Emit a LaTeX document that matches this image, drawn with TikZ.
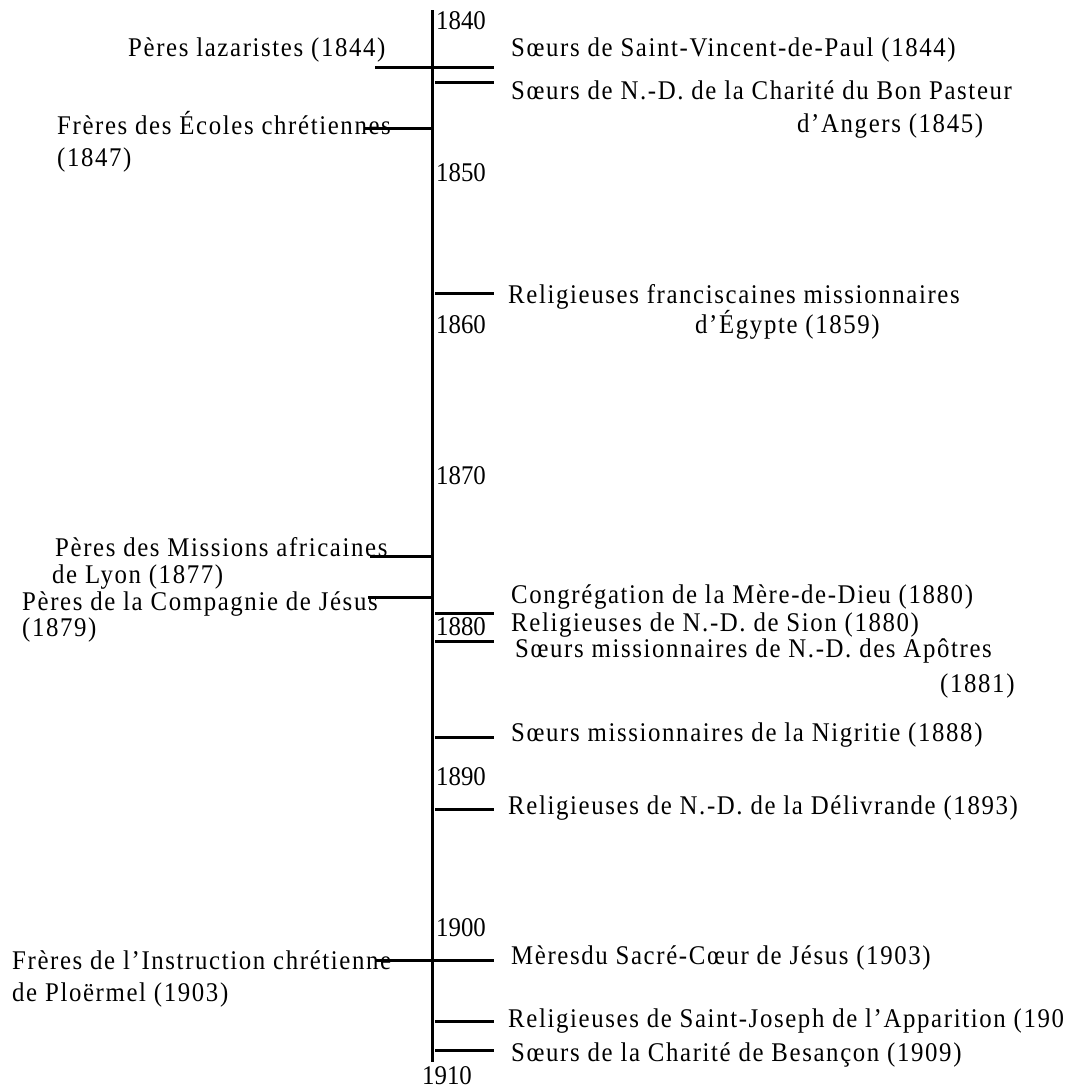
\documentclass[tikz,border=0pt]{standalone}
\usepackage{fontspec}
\setmainfont[FakeStretch=0.92]{Liberation Serif}
\newfontfamily\tracked[FakeStretch=0.92, LetterSpace=6]{Liberation Serif}
\usepackage{tikz}
\tikzset{
  yearlbl/.style={font=\fontsize{27}{30}\selectfont, inner sep=0pt, anchor=west},
  orglbl/.style={font=\tracked\fontsize{27}{30}\selectfont, inner sep=0pt, anchor=west, text height=17pt, text depth=5pt},
  tickline/.style={line width=3pt},
}

\begin{document}
\begin{tikzpicture}[x=1pt, y=-1pt]
\useasboundingbox (0,0) rectangle (1069,1090);
% the time axis
\coordinate (axistop) at (432,10);
\coordinate (axisbot) at (432,1062);
\draw[tickline] (axistop) -- (axisbot);

% decades
\node[yearlbl] (y1840) at (436,21) {1840};
\node[yearlbl] (y1850) at (436,173) {1850};
\node[yearlbl] (y1860) at (436,325) {1860};
\node[yearlbl] (y1870) at (436,476) {1870};
\node[yearlbl] (y1880) at (436,627) {1880};
\node[yearlbl] (y1890) at (436,777) {1890};
\node[yearlbl] (y1900) at (436,928) {1900};
\node[yearlbl, anchor=center] (y1910) at (447,1076) {1910};

% ticks
\draw[tickline] (375,67) -- (494,67);
\draw[tickline] (435,82) -- (494,82);
\draw[tickline] (365,128) -- (432,128);
\draw[tickline] (435,293) -- (494,293);
\draw[tickline] (370,556) -- (432,556);
\draw[tickline] (368,597) -- (432,597);
\draw[tickline] (435,613) -- (494,613);
\draw[tickline] (435,641) -- (494,641);
\draw[tickline] (435,737) -- (494,737);
\draw[tickline] (435,809) -- (494,809);
\draw[tickline] (375,960) -- (494,960);
\draw[tickline] (435,1021) -- (494,1021);
\draw[tickline] (435,1050) -- (494,1050);

% left side
\node[orglbl] (lazaristes) at (128,50) {Pères lazaristes (1844)};
\node[orglbl] (ecoles) at (57,128) {Frères des Écoles chrétiennes};
\node[orglbl] (ecoles2) at (57,160) {(1847)};
\node[orglbl] (africaines) at (55,550) {Pères des Missions africaines};
\node[orglbl] (africaines2) at (52,577) {de Lyon (1877)};
\node[orglbl] (jesuites) at (22,604) {Pères de la Compagnie de Jésus};
\node[orglbl] (jesuites2) at (22,630) {(1879)};
\node[orglbl] (ploermel) at (12,963) {Frères de l’Instruction chrétienne};
\node[orglbl] (ploermel2) at (12,995) {de Ploërmel (1903)};

% right side
\node[orglbl] (vincent) at (511,50) {Sœurs de Saint-Vincent-de-Paul (1844)};
\node[orglbl] (angers) at (511,93) {Sœurs de N.-D. de la Charité du Bon Pasteur};
\node[orglbl] (angers2) at (797,126) {d’Angers (1845)};
\node[orglbl] (egypte) at (508,297) {Religieuses franciscaines missionnaires};
\node[orglbl] (egypte2) at (695,327) {d’Égypte (1859)};
\node[orglbl] (meredieu) at (511,597) {Congrégation de la Mère-de-Dieu (1880)};
\node[orglbl] (sion) at (511,625) {Religieuses de N.-D. de Sion (1880)};
\node[orglbl] (apotres) at (515,651) {Sœurs missionnaires de N.-D. des Apôtres};
\node[orglbl] (apotres2) at (940,686) {(1881)};
\node[orglbl] (nigritie) at (511,735) {Sœurs missionnaires de la Nigritie (1888)};
\node[orglbl] (delivrande) at (508,808) {Religieuses de N.-D. de la Délivrande (1893)};
\node[orglbl] (sacrecoeur) at (511,958) {Mèresdu Sacré-Cœur de Jésus (1903)};
\node[orglbl] (apparition) at (508,1021) {Religieuses de Saint-Joseph de l’Apparition (190};
\node[orglbl] (besancon) at (511,1055) {Sœurs de la Charité de Besançon (1909)};
\end{tikzpicture}
\end{document}
